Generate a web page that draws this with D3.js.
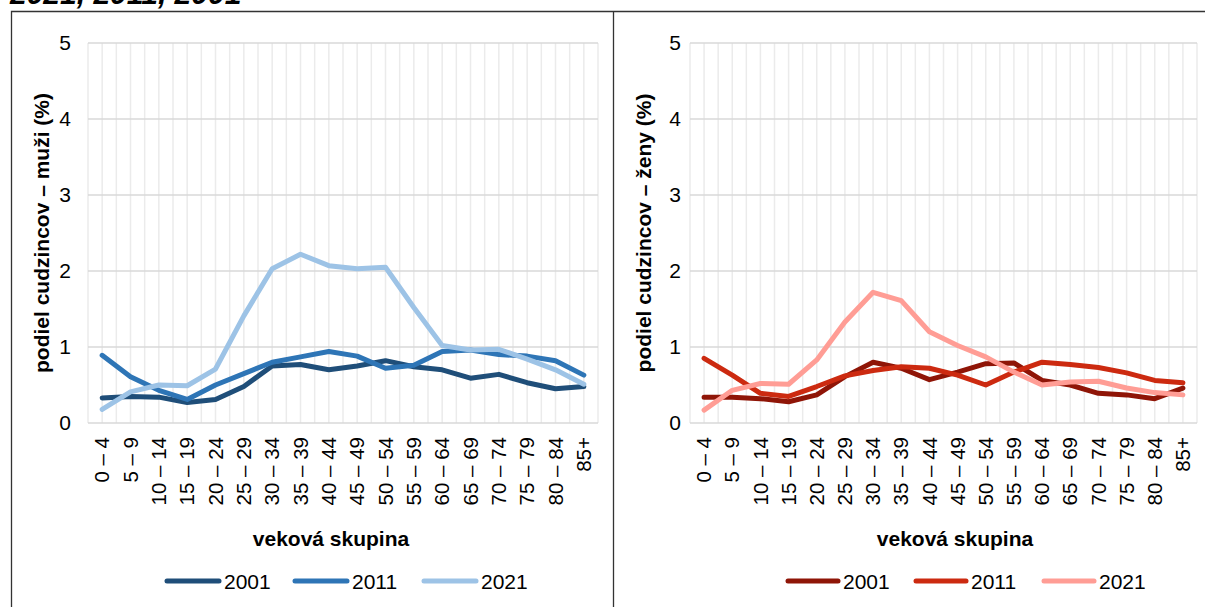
<!DOCTYPE html>
<html>
<head>
  <meta charset="utf-8">
  <title>Podiel cudzincov podľa vekových skupín</title>
  <script src="https://cdn.jsdelivr.net/npm/d3@7"></script>
  <style>
    body { margin: 0; background: #fff; font-family: Arial, "Liberation Sans", sans-serif; }
    svg { display: block; }
    .grid-h line { stroke: #d9d9d9; stroke-width: 1.5; }
    .grid-v line { stroke: #ebebeb; stroke-width: 1.5; }
    .tick text { fill: #000; }
    .series { fill: none; stroke-width: 5; stroke-linejoin: round; stroke-linecap: round; }
  </style>
</head>
<body>
<div id="chart"></div>
<script>
const ageGroups = ["0 – 4", "5 – 9", "10 – 14", "15 – 19", "20 – 24", "25 – 29", "30 – 34", "35 – 39",
  "40 – 44", "45 – 49", "50 – 54", "55 – 59", "60 – 64", "65 – 69", "70 – 74", "75 – 79", "80 – 84", "85+"];
const years = ["2001", "2011", "2021"];

// podiel cudzincov (%) - muzi
const men2001 = [0.33, 0.35, 0.34, 0.27, 0.31, 0.48, 0.75, 0.77, 0.70, 0.75, 0.82, 0.74, 0.70, 0.59, 0.64, 0.53, 0.45, 0.48];
const men2011 = [0.89, 0.61, 0.43, 0.31, 0.50, 0.65, 0.80, 0.87, 0.94, 0.88, 0.72, 0.76, 0.94, 0.96, 0.90, 0.88, 0.82, 0.63];
const men2021 = [0.18, 0.41, 0.50, 0.49, 0.71, 1.41, 2.03, 2.22, 2.07, 2.03, 2.05, 1.52, 1.02, 0.96, 0.97, 0.84, 0.70, 0.51];

// podiel cudzincov (%) - zeny
const women2001 = [0.34, 0.34, 0.32, 0.28, 0.37, 0.61, 0.80, 0.72, 0.57, 0.67, 0.78, 0.79, 0.56, 0.50, 0.39, 0.37, 0.32, 0.46];
const women2011 = [0.85, 0.63, 0.39, 0.35, 0.48, 0.62, 0.69, 0.74, 0.72, 0.63, 0.50, 0.67, 0.80, 0.77, 0.73, 0.66, 0.56, 0.53];
const women2021 = [0.17, 0.43, 0.52, 0.51, 0.83, 1.33, 1.72, 1.61, 1.20, 1.02, 0.87, 0.67, 0.50, 0.54, 0.55, 0.46, 0.40, 0.37];

const yTicks = [0, 1, 2, 3, 4, 5];

const width = 1205, height = 607;

const svg = d3.select("#chart").append("svg")
  .attr("width", width)
  .attr("height", height);

svg.append("rect").attr("width", width).attr("height", height).attr("fill", "#fff");

// nadpis (orezany hore)
svg.append("text")
  .attr("x", 10).attr("y", 4)
  .style("font-size", "30px").style("font-weight", "bold").style("font-style", "italic")
  .text("2021, 2011, 2001");

// ramcek okolo grafov
svg.append("path")
  .attr("d", "M11.5,620V11.5H1220M613.5,11.5V620")
  .attr("fill", "none").attr("stroke", "#333").attr("stroke-width", 1.3);

const panels = [
  {
    series: [men2001, men2011, men2021],
    colors: ["#1f4e79", "#2e75b6", "#9dc3e6"],
    yTitle: "podiel cudzincov – muži (%)",
    x0: 88, x1: 598, yTitleX: 49, tickX: 71, xTitleX: 331,
    legendX: [165, 293, 422], legendLen: 56
  },
  {
    series: [women2001, women2011, women2021],
    colors: ["#8f1507", "#cc2a10", "#ff9d95"],
    yTitle: "podiel cudzincov – ženy (%)",
    x0: 690, x1: 1197, yTitleX: 651, tickX: 681, xTitleX: 955,
    legendX: [786, 914, 1042], legendLen: 54
  }
];

const yTop = 43, yBottom = 423;

panels.forEach(p => {
  const g = svg.append("g");

  const x = d3.scaleBand().domain(ageGroups).range([p.x0, p.x1]).padding(0);
  const y = d3.scaleLinear().domain([0, 5]).range([yBottom, yTop]);
  const half = x.bandwidth() / 2;

  // zvisle mriezky (hranice aj stredy skupin)
  const vPos = [];
  ageGroups.forEach(a => { vPos.push(x(a)); vPos.push(x(a) + half); });
  vPos.push(p.x1);
  g.append("g").attr("class", "grid-v")
    .selectAll("line").data(vPos).join("line")
    .attr("x1", d => d).attr("x2", d => d)
    .attr("y1", yTop).attr("y2", yBottom);

  // vodorovne mriezky
  g.append("g").attr("class", "grid-h")
    .selectAll("line").data(yTicks).join("line")
    .attr("x1", p.x0).attr("x2", p.x1)
    .attr("y1", d => y(d)).attr("y2", d => y(d));

  // os y
  const yAxis = g.append("g")
    .attr("transform", `translate(${p.tickX},0)`)
    .call(d3.axisLeft(y).tickValues(yTicks).tickSize(0).tickPadding(0).tickFormat(d3.format("d")));
  yAxis.select(".domain").remove();
  yAxis.selectAll("text").style("font-size", "21px").style("font-family", "Arial, 'Liberation Sans', sans-serif");

  // os x
  const xAxis = g.append("g")
    .attr("transform", `translate(0,${yBottom})`)
    .call(d3.axisBottom(x).tickSize(0));
  xAxis.select(".domain").remove();
  xAxis.selectAll("text")
    .style("font-size", "20.5px").style("font-family", "Arial, 'Liberation Sans', sans-serif")
    .attr("text-anchor", "end")
    .attr("transform", "rotate(-90)")
    .attr("x", -14).attr("y", 0).attr("dy", "0.35em");

  // nazov osi y
  g.append("text")
    .attr("transform", `translate(${p.yTitleX},${(yTop + yBottom) / 2}) rotate(-90)`)
    .attr("text-anchor", "middle")
    .style("font-size", "21px").style("font-weight", "bold")
    .text(p.yTitle);

  // nazov osi x
  g.append("text")
    .attr("x", p.xTitleX).attr("y", 546)
    .attr("text-anchor", "middle")
    .style("font-size", "21px").style("font-weight", "bold")
    .text("veková skupina");

  // ciary
  const line = d3.line()
    .x((d, i) => x(ageGroups[i]) + half)
    .y(d => y(d));

  g.selectAll("path.series").data(p.series).join("path")
    .attr("class", "series")
    .attr("stroke", (d, i) => p.colors[i])
    .attr("d", line);

  // legenda
  const leg = g.selectAll("g.legend").data(years).join("g")
    .attr("class", "legend")
    .attr("transform", (d, i) => `translate(${p.legendX[i]},581)`);
  leg.append("line")
    .attr("x1", 2).attr("x2", p.legendLen - 2)
    .attr("stroke", (d, i) => p.colors[i])
    .attr("stroke-width", 5).attr("stroke-linecap", "round");
  leg.append("text")
    .attr("x", p.legendLen + 3).attr("dy", "0.36em")
    .style("font-size", "21px")
    .text(d => d);
});
</script>
</body>
</html>
